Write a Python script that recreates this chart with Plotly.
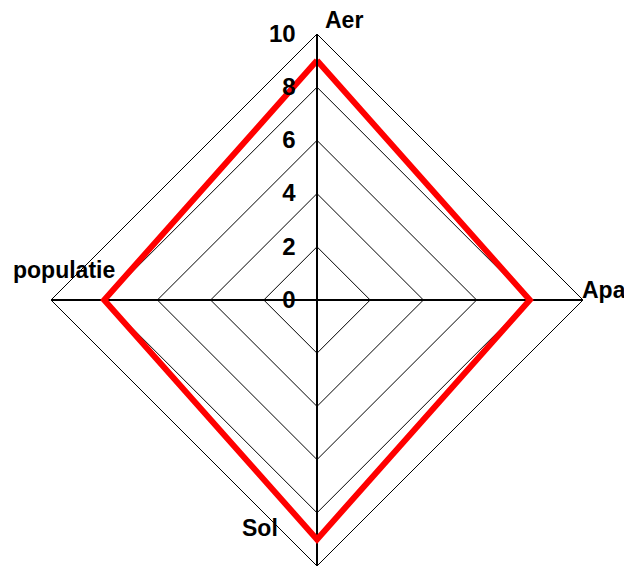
import plotly.graph_objects as go

categories = ["Aer", "Apa", "Sol", "populatie"]
values = [9, 8, 9, 8]
radial_ticks = [0, 2, 4, 6, 8, 10]

W, H = 624, 566
R = 266
cx, cy = 317, 300  # center in pixels (from top-left)

fig = go.Figure()
fig.add_trace(go.Scatterpolar(
    r=values + values[:1],
    theta=categories + categories[:1],
    mode="lines",
    line=dict(color="#ff0000", width=6),
    showlegend=False,
    hoverinfo="skip",
))

FONT = "Liberation Sans, Arial, sans-serif"

fig.update_layout(
    width=W, height=H,
    margin=dict(l=0, r=0, t=0, b=0),
    paper_bgcolor="white",
    plot_bgcolor="white",
    showlegend=False,
    polar=dict(
        domain=dict(x=[(cx - R) / W, (cx + R) / W],
                    y=[max(0, (H - cy - R) / H), min(1, (H - cy + R) / H)]),
        bgcolor="white",
        gridshape="linear",
        radialaxis=dict(
            range=[0, 10],
            tickvals=radial_ticks,
            ticktext=[str(v) for v in radial_ticks],
            angle=90,
            tickangle=90,
            side="counterclockwise",
            showline=True,
            linecolor="black",
            linewidth=2,
            gridcolor="black",
            gridwidth=1,
            ticks="outside",
            ticklen=12,
            tickcolor="rgba(0,0,0,0)",
            tickfont=dict(family=FONT, size=24, color="black", weight="bold"),
        ),
        angularaxis=dict(
            categoryarray=categories,
            categoryorder="array",
            direction="clockwise",
            rotation=90,
            showticklabels=False,
            ticks="",
            showgrid=True,
            gridcolor="black",
            gridwidth=2,
            showline=True,
            linecolor="black",
            linewidth=1,
        ),
    ),
)

label_pos = {
    "Aer": (323, 20, "left"),
    "Apa": (580, 290, "left"),
    "populatie": (64, 270, "center"),
    "Sol": (260, 528, "center"),
}
for name in categories:
    px, py, anchor = label_pos[name]
    fig.add_annotation(
        x=px / W, y=1 - py / H, xref="paper", yref="paper",
        text=name, showarrow=False, xanchor=anchor, yanchor="middle",
        font=dict(family=FONT, size=23, color="black", weight="bold"),
    )

fig.write_html("out.html", config={"displayModeBar": False},
               post_script="document.body.style.margin='0';")
